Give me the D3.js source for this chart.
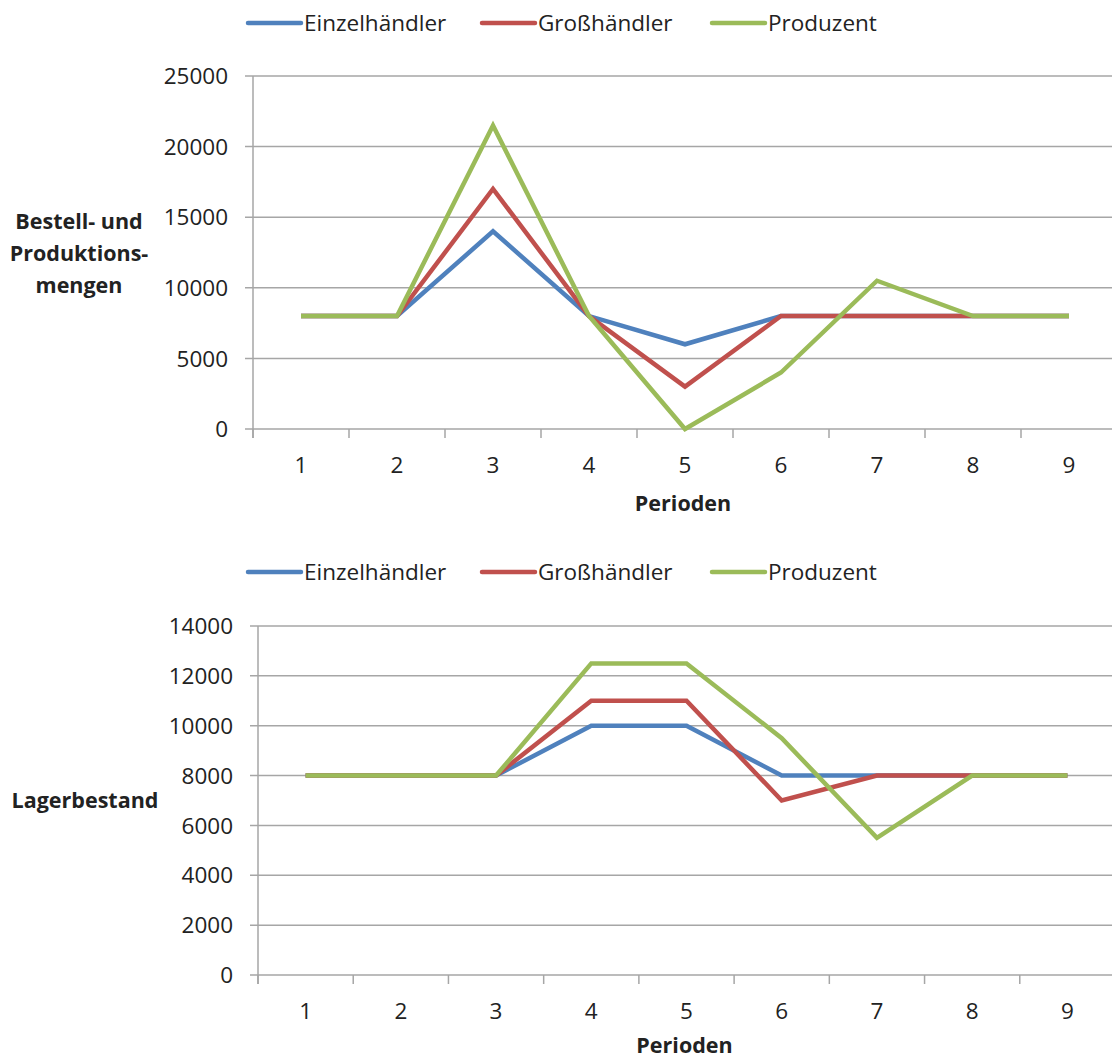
<!DOCTYPE html>
<html>
<head>
<meta charset="utf-8">
<script src="https://cdn.jsdelivr.net/npm/d3@7/dist/d3.min.js"></script>
<style>
  html, body { margin: 0; padding: 0; background: #ffffff; }
  svg { display: block; }
  text { font-family: "Open Sans", "Liberation Sans", sans-serif; fill: #222; }
</style>
</head>
<body>
<svg id="chart" width="1112" height="1061"></svg>
<script>
// ---------- data ----------
const periods = ["1", "2", "3", "4", "5", "6", "7", "8", "9"];
const seriesNames = ["Einzelhändler", "Großhändler", "Produzent"];
const seriesColors = ["#4F81BD", "#C0504D", "#9BBB59"];

// Top chart: Bestell- und Produktionsmengen
const orderRetailer   = [8000, 8000, 14000, 8000, 6000, 8000, 8000, 8000, 8000];
const orderWholesaler = [8000, 8000, 17000, 8000, 3000, 8000, 8000, 8000, 8000];
const orderProducer   = [8000, 8000, 21500, 8000, 0, 4000, 10500, 8000, 8000];
const orderTicks = [0, 5000, 10000, 15000, 20000, 25000];

// Bottom chart: Lagerbestand
const stockRetailer   = [8000, 8000, 8000, 10000, 10000, 8000, 8000, 8000, 8000];
const stockWholesaler = [8000, 8000, 8000, 11000, 11000, 7000, 8000, 8000, 8000];
const stockProducer   = [8000, 8000, 8000, 12500, 12500, 9500, 5500, 8000, 8000];
const stockTicks = [0, 2000, 4000, 6000, 8000, 10000, 12000, 14000];

const svg = d3.select("#chart");
svg.append("rect").attr("width", 1112).attr("height", 1061).attr("fill", "#fff");

function drawChart(opt) {
  const g = svg.append("g");
  const x = d3.scaleBand().domain(periods).range([opt.left, opt.right]);
  const y = d3.scaleLinear().domain([0, d3.max(opt.ticks)]).range([opt.bottom, opt.top]);
  const gridColor = "#a6a6a6";

  // gridlines
  g.append("g").selectAll("line").data(opt.ticks).join("line")
    .attr("x1", opt.left - 8).attr("x2", opt.right)
    .attr("y1", d => y(d)).attr("y2", d => y(d))
    .attr("stroke", gridColor).attr("stroke-width", 1.5);

  // y axis line
  g.append("line")
    .attr("x1", opt.left).attr("x2", opt.left)
    .attr("y1", y(d3.max(opt.ticks))).attr("y2", opt.bottom + 9)
    .attr("stroke", gridColor).attr("stroke-width", 1.5);

  // y tick labels
  g.append("g").selectAll("text").data(opt.ticks).join("text")
    .attr("x", opt.left - 25).attr("y", d => y(d))
    .attr("dy", "0.36em").attr("text-anchor", "end")
    .style("font-size", "22.5px").text(d => d);

  // x tick marks at band boundaries
  const edges = periods.map(p => x(p)).concat([x.range()[1]]);
  g.append("g").selectAll("line").data(edges).join("line")
    .attr("x1", d => d).attr("x2", d => d)
    .attr("y1", opt.bottom).attr("y2", opt.bottom + 9)
    .attr("stroke", gridColor).attr("stroke-width", 1.5);

  // x tick labels
  g.append("g").selectAll("text").data(periods).join("text")
    .attr("x", d => x(d) + x.bandwidth() / 2).attr("y", opt.bottom + 36)
    .attr("dy", "0.36em").attr("text-anchor", "middle")
    .style("font-size", "22.5px").text(d => d);

  // x title
  g.append("text")
    .attr("x", (opt.left + opt.right) / 2 - 2).attr("y", opt.bottom + opt.xTitleOffset)
    .attr("dy", "0.36em").attr("text-anchor", "middle")
    .style("font-size", "21.5px").style("font-weight", "bold").text("Perioden");

  // y title
  const yt = g.append("text").attr("text-anchor", "middle")
    .style("font-size", "21.5px").style("font-weight", "bold");
  opt.yTitle.forEach((line, i) => {
    yt.append("tspan").attr("x", opt.yTitleX)
      .attr("y", opt.yTitleY + i * 32).text(line);
  });

  // series lines
  const line = d3.line()
    .x((d, i) => x(periods[i]) + x.bandwidth() / 2)
    .y(d => y(d));
  opt.series.forEach((vals, si) => {
    g.append("path").datum(vals)
      .attr("d", line).attr("fill", "none")
      .attr("stroke", seriesColors[si]).attr("stroke-width", 4.5)
      .attr("stroke-linejoin", "miter").attr("stroke-linecap", "butt");
  });

  // legend
  const legX = [248, 482, 712];
  seriesNames.forEach((name, si) => {
    const lg = g.append("g");
    lg.append("line")
      .attr("x1", legX[si]).attr("x2", legX[si] + 53)
      .attr("y1", opt.legendY).attr("y2", opt.legendY)
      .attr("stroke", seriesColors[si]).attr("stroke-width", 4.5)
      .attr("stroke-linecap", "round");
    lg.append("text")
      .attr("x", legX[si] + 56).attr("y", opt.legendY)
      .attr("dy", "0.36em").style("font-size", "22.5px").text(name);
  });
}

drawChart({
  left: 253, right: 1117, top: 76, bottom: 429,
  ticks: orderTicks,
  series: [orderRetailer, orderWholesaler, orderProducer],
  yTitle: ["Bestell- und", "Produktions-", "mengen"],
  yTitleX: 79, yTitleY: 229,
  legendY: 23, xTitleOffset: 74
});

drawChart({
  left: 258, right: 1115, top: 626, bottom: 975,
  ticks: stockTicks,
  series: [stockRetailer, stockWholesaler, stockProducer],
  yTitle: ["Lagerbestand"],
  yTitleX: 85, yTitleY: 808,
  legendY: 572, xTitleOffset: 70
});
</script>
</body>
</html>
